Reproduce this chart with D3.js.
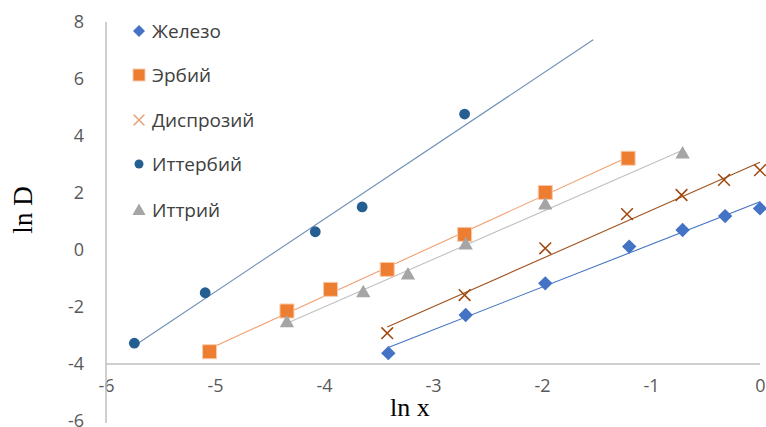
<!DOCTYPE html>
<html><head><meta charset="utf-8">
<script src="https://cdn.jsdelivr.net/npm/d3@7"></script>
<style>body{margin:0;background:#fff}svg{display:block}</style>
</head><body>
<svg id="c" width="766" height="427"></svg>
<script>
// ---- data ----
const xTicks = [-6, -5, -4, -3, -2, -1, 0];
const yTicks = [-6, -4, -2, 0, 2, 4, 6, 8];
const seriesNames = ["Железо", "Эрбий", "Диспрозий", "Иттербий", "Иттрий"];
const ironX = [-3.41, -2.70, -1.97, -1.20, -0.71, -0.32, 0.00];
const ironY = [-3.62, -2.28, -1.17, 0.12, 0.70, 1.19, 1.46];
const erbiumX = [-5.05, -4.34, -3.94, -3.42, -2.71, -1.97, -1.21];
const erbiumY = [-3.57, -2.14, -1.38, -0.68, 0.55, 2.02, 3.22];
const dysprosiumX = [-3.42, -2.71, -1.97, -1.22, -0.72, -0.33, 0.00];
const dysprosiumY = [-2.92, -1.58, 0.06, 1.26, 1.93, 2.46, 2.80];
const ytterbiumX = [-5.74, -5.09, -4.08, -3.65, -2.71];
const ytterbiumY = [-3.27, -1.50, 0.64, 1.51, 4.77];
const yttriumX = [-4.34, -3.64, -3.23, -2.70, -1.97, -0.71];
const yttriumY = [-2.52, -1.47, -0.85, 0.21, 1.61, 3.40];
const ytterbiumForward = 1.18; // trendline forecast forward

const svg = d3.select("#c");
const x = d3.scaleLinear().domain([-6, 0]).range([106, 760]);
const y = d3.scaleLinear().domain([-6, 8]).range([421, 22]);

const tickFont = "'Open Sans', 'Noto Sans', sans-serif";
const fmt = d => String(d);

// axes
const xAxis = svg.append("g").attr("transform", `translate(0,${y(-4)})`)
  .call(d3.axisBottom(x).tickValues(xTicks).tickSize(0).tickPadding(22).tickFormat(fmt));
const yAxis = svg.append("g").attr("transform", `translate(${x(-6)},0)`)
  .call(d3.axisLeft(y).tickValues(yTicks).tickSize(0).tickPadding(22).tickFormat(fmt));
[xAxis, yAxis].forEach(g => {
  g.select(".domain").attr("stroke", "#BFBFBF").attr("stroke-width", 1.5);
  g.selectAll("text").attr("fill", "#595959").style("font-family", tickFont).style("font-size", "18px");
});
yAxis.select(".domain").attr("d", `M0,${y(8)}V${y(-6) + 2}`);
xAxis.select(".domain").attr("d", `M${x(-6)},0H${x(0)}`);
xAxis.selectAll("text").attr("dy", "0.32em");

// axis titles
svg.append("text").attr("transform", "translate(32,210) rotate(-90)")
  .attr("text-anchor", "middle").style("font-family", "'Liberation Serif', serif")
  .style("font-size", "27px").attr("fill", "#000").text("ln D");
svg.append("text").attr("x", 390).attr("y", 416)
  .style("font-family", "'Liberation Serif', serif")
  .style("font-size", "26px").attr("fill", "#000").text("ln x");

function fit(xs, ys) {
  const mx = d3.mean(xs), my = d3.mean(ys);
  let sxy = 0, sxx = 0;
  xs.forEach((v, i) => { sxy += (v - mx) * (ys[i] - my); sxx += (v - mx) ** 2; });
  const b = sxy / sxx;
  return { b, a: my - b * mx };
}

const series = [
  { name: seriesNames[0], xs: ironX, ys: ironY, color: "#4472C4", line: "#4472C4", sym: "diamond", legendColor: "#4472C4" },
  { name: seriesNames[1], xs: erbiumX, ys: erbiumY, color: "#ED7D31", line: "#F0A070", sym: "square", legendColor: "#ED7D31" },
  { name: seriesNames[2], xs: dysprosiumX, ys: dysprosiumY, color: "#9E480E", line: "#A0521E", sym: "cross", legendColor: "#E8A98A" },
  { name: seriesNames[3], xs: ytterbiumX, ys: ytterbiumY, color: "#255E91", line: "#6C8EB5", sym: "circle", legendColor: "#255E91", fwd: ytterbiumForward },
  { name: seriesNames[4], xs: yttriumX, ys: yttriumY, color: "#A5A5A5", line: "#C0C0C0", sym: "triangle", legendColor: "#A5A5A5" }
];

// trendlines
series.forEach(s => {
  const f = fit(s.xs, s.ys);
  const x0 = d3.min(s.xs), x1 = d3.max(s.xs) + (s.fwd || 0);
  svg.append("line")
    .attr("x1", x(x0)).attr("y1", y(f.a + f.b * x0))
    .attr("x2", x(x1)).attr("y2", y(f.a + f.b * x1))
    .attr("stroke", s.line).attr("stroke-width", 1.1);
});

function drawMarker(g, sym, color, size) {
  if (sym === "diamond") {
    g.append("path").attr("d", `M0,${-size*0.6}L${size*0.6},0L0,${size*0.6}L${-size*0.6},0Z`).attr("fill", color);
  } else if (sym === "square") {
    g.append("rect").attr("x", -size/2).attr("y", -size/2).attr("width", size).attr("height", size)
      .attr("fill", color).attr("stroke", "#F8CBAD").attr("stroke-width", 1);
  } else if (sym === "cross") {
    const h = size * 0.45;
    g.append("path").attr("d", `M${-h},${-h}L${h},${h}M${-h},${h}L${h},${-h}`)
      .attr("stroke", color).attr("stroke-width", 1.5).attr("fill", "none");
  } else if (sym === "circle") {
    g.append("circle").attr("r", size * 0.45).attr("fill", color);
  } else if (sym === "triangle") {
    const h = size * 0.55;
    g.append("path").attr("d", `M0,${-h}L${h},${h*0.75}L${-h},${h*0.75}Z`).attr("fill", color);
  }
}

const markerSize = { diamond: 12, square: 14, cross: 13, circle: 12, triangle: 13 };
// markers
series.forEach(s => {
  s.xs.forEach((v, i) => {
    const g = svg.append("g").attr("transform", `translate(${x(v)},${y(s.ys[i])})`);
    drawMarker(g, s.sym, s.color, markerSize[s.sym]);
  });
});

// legend
const legendY = [31, 75, 120, 164, 210];
const legendMarkerSize = { diamond: 10, square: 12, cross: 12, circle: 10, triangle: 12 };
series.forEach((s, i) => {
  const g = svg.append("g").attr("transform", `translate(139,${legendY[i]})`);
  drawMarker(g, s.sym, s.legendColor, legendMarkerSize[s.sym]);
  g.append("text").attr("x", 13).attr("dy", "0.35em")
    .style("font-family", tickFont).style("font-size", "19px").attr("fill", "#404040").text(s.name);
});
</script>
</body></html>
